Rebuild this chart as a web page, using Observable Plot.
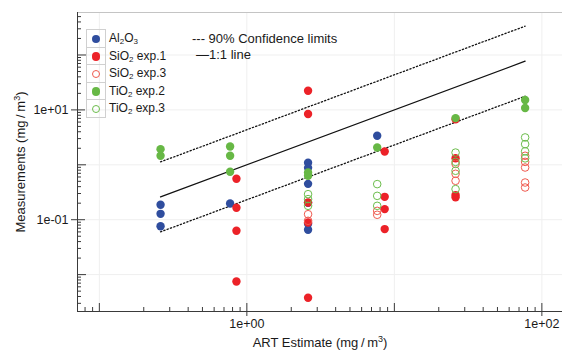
<!DOCTYPE html>
<html><head><meta charset="utf-8">
<script src="https://cdn.jsdelivr.net/npm/d3@7"></script>
<script src="https://cdn.jsdelivr.net/npm/@observablehq/plot@0.6"></script>
<style>
html,body{margin:0;padding:0;background:#fff;}
body{font-family:"Liberation Sans",Arial,sans-serif;color:#1a1a1a;}
#wrap{position:relative;width:564px;height:350px;overflow:hidden;}
#wrap svg{display:block;}
.ov{position:absolute;white-space:nowrap;line-height:1;}
#legend{position:absolute;left:86px;top:29px;border-collapse:collapse;font-size:12px;}
#legend td{padding:0;height:16.5px;}
#legend td.m{width:18px;border:1px solid #d0d0d0;text-align:center;vertical-align:middle;}
#legend td.t{padding-left:3px;}
#legend .c{display:inline-block;width:8.4px;height:8.4px;border-radius:50%;box-sizing:border-box;vertical-align:middle;}
sub{font-size:8px;vertical-align:-2px;line-height:0;}
</style></head><body>
<div id="wrap"></div>
<script>
// ---- data ----
const xDomain = [0.0711, 138];
const yDomain = [0.00213, 594];
const xLabelTicks = [1, 100];
const yLabelTicks = [0.1, 10];
const xDecades = [0.1, 1, 10, 100];
const yDecades = [0.01, 0.1, 1, 10, 100];
const minorFactors = [2, 3, 4, 5, 6, 7, 8, 9];
const xDecadeBases = [0.01, 0.1, 1, 10, 100];
const yDecadeBases = [0.001, 0.01, 0.1, 1, 10, 100];

// 1:1 line and 90% confidence limits
const refX = [0.26, 77];
const oneToOneY = [0.26, 77];
const upperY = [1.13, 335];
const lowerY = [0.06, 17.7];

// Al2O3
const alX = [0.26, 0.26, 0.26, 0.77, 2.6, 2.6, 2.6, 2.6, 2.6, 2.6, 7.65];
const alY = [0.187, 0.128, 0.076, 0.197, 1.09, 0.88, 0.45, 0.203, 0.084, 0.0655, 3.38];
// SiO2 exp.1 (filled red)
const si1X = [0.85, 0.85, 0.85, 0.85, 2.6, 2.6, 2.6, 2.6, 2.6, 8.6, 8.6, 8.6, 8.6, 26, 26, 26, 26];
const si1Y = [0.556, 0.165, 0.0628, 0.00748, 22.3, 8.4, 0.206, 0.089, 0.0038, 1.75, 0.261, 0.156, 0.0675, 6.75, 1.32, 0.281, 0.256];
// SiO2 exp.3 (open red)
const si3X = [2.6, 2.6, 7.65, 7.65, 26, 26, 26, 77, 77, 77, 77, 77];
const si3Y = [0.126, 0.0955, 0.145, 0.123, 1.04, 0.686, 0.511, 1.46, 1.13, 0.893, 0.476, 0.386];
// TiO2 exp.2 (filled green)
const ti2X = [0.26, 0.26, 0.77, 0.77, 0.77, 2.6, 2.6, 7.65, 26, 77, 77];
const ti2Y = [1.93, 1.46, 2.15, 1.46, 0.745, 0.724, 0.63, 2.07, 7.09, 15.1, 10.8];
// TiO2 exp.3 (open green)
const ti3X = [2.6, 2.6, 2.6, 7.65, 7.65, 7.65, 26, 26, 26, 26, 77, 77, 77, 77];
const ti3Y = [0.292, 0.237, 0.179, 0.445, 0.272, 0.179, 1.67, 1.13, 0.778, 0.361, 3.15, 2.38, 1.76, 1.31];

// ---- build ----
const pts = (xs, ys) => xs.map((x, i) => ({x, y: ys[i]}));
const ref = (ys) => refX.map((x, i) => ({x, y: ys[i]}));
const minors = (bases, dom) => bases.flatMap(b => minorFactors.map(f => b * f)).filter(v => v > dom[0] && v < dom[1]);
const fmt = d => { const e = Math.round(Math.log10(d)); return "1e" + (e < 0 ? "-" : "+") + String(Math.abs(e)).padStart(2, "0"); };
const blank = () => "";
const xMinor = minors(xDecadeBases, xDomain);
const yMinor = minors(yDecadeBases, yDomain);
const xUnl = xDecades.filter(d => !xLabelTicks.includes(d));
const yUnl = yDecades.filter(d => !yLabelTicks.includes(d));

const C = {al: "#2f4d9e", red: "#ec2228", redO: "#ef5a4f", green: "#67b845", greenO: "#6cbd4c", axis: "#3a3a3a"};

const chart = Plot.plot({
  width: 564, height: 350,
  marginLeft: 77, marginRight: 2, marginTop: 12, marginBottom: 39,
  style: {fontFamily: "'Liberation Sans', Arial, sans-serif", fontSize: "12.5px", color: "#1a1a1a", background: "white", overflow: "visible"},
  x: {type: "log", domain: xDomain},
  y: {type: "log", domain: yDomain},
  marks: [
    Plot.gridX(xDecades, {stroke: "#efefef", strokeOpacity: 1}),
    Plot.gridY(yDecades, {stroke: "#efefef", strokeOpacity: 1}),
    Plot.ruleY([yDomain[1]], {stroke: "#c4c4c4"}),
    Plot.ruleX([xDomain[0]], {stroke: C.axis}),
    Plot.ruleY([yDomain[0]], {stroke: C.axis}),
    // labeled major ticks (cross the axis)
    Plot.axisX(xLabelTicks, {anchor: "bottom", tickSize: 5, tickPadding: 3, tickFormat: fmt, label: null, stroke: C.axis}),
    Plot.axisX(xLabelTicks, {anchor: "bottom", tickSize: -8, tickFormat: blank, label: null, stroke: C.axis}),
    Plot.axisY(yLabelTicks, {anchor: "left", tickSize: 6, tickPadding: 3, tickFormat: fmt, label: null, stroke: C.axis}),
    Plot.axisY(yLabelTicks, {anchor: "left", tickSize: -8, tickFormat: blank, label: null, stroke: C.axis}),
    // unlabeled majors (inside)
    Plot.axisX(xUnl, {anchor: "bottom", tickSize: -8, tickFormat: blank, label: null, stroke: C.axis}),
    Plot.axisY(yUnl, {anchor: "left", tickSize: -9, tickFormat: blank, label: null, stroke: C.axis}),
    // minor ticks (inside)
    Plot.axisX(xMinor, {anchor: "bottom", tickSize: -4, tickFormat: blank, label: null, stroke: C.axis}),
    Plot.axisY(yMinor, {anchor: "left", tickSize: -4, tickFormat: blank, label: null, stroke: C.axis}),
    // reference lines
    Plot.line(ref(upperY), {x: "x", y: "y", stroke: "#111", strokeWidth: 1.3, strokeDasharray: "1.3,2.2"}),
    Plot.line(ref(lowerY), {x: "x", y: "y", stroke: "#111", strokeWidth: 1.3, strokeDasharray: "1.3,2.2"}),
    Plot.line(ref(oneToOneY), {x: "x", y: "y", stroke: "#111", strokeWidth: 1.3}),
    // data
    Plot.dot(pts(alX, alY), {x: "x", y: "y", r: 4.2, fill: C.al}),
    Plot.dot(pts(si1X, si1Y), {x: "x", y: "y", r: 4.2, fill: C.red}),
    Plot.dot(pts(si3X, si3Y), {x: "x", y: "y", r: 3.8, fill: "white", fillOpacity: 0, stroke: C.redO, strokeWidth: 1}),
    Plot.dot(pts(ti2X, ti2Y), {x: "x", y: "y", r: 4.2, fill: C.green}),
    Plot.dot(pts(ti3X, ti3Y), {x: "x", y: "y", r: 3.8, fill: "white", fillOpacity: 0, stroke: C.greenO, strokeWidth: 1})
  ]
});
const wrap = document.getElementById("wrap");
wrap.appendChild(chart);

const legendItems = [
  {label: "Al<sub>2</sub>O<sub>3</sub>", fill: C.al, stroke: null},
  {label: "SiO<sub>2</sub> exp.1", fill: C.red, stroke: null},
  {label: "SiO<sub>2</sub> exp.3", fill: null, stroke: C.redO},
  {label: "TiO<sub>2</sub> exp.2", fill: C.green, stroke: null},
  {label: "TiO<sub>2</sub> exp.3", fill: null, stroke: C.greenO}
];
const tbl = document.createElement("table");
tbl.id = "legend";
tbl.innerHTML = legendItems.map(d => `<tr><td class="m"><span class="c" style="background:${d.fill || "transparent"};${d.stroke ? "border:1px solid " + d.stroke : ""}"></span></td><td class="t">${d.label}</td></tr>`).join("");
wrap.appendChild(tbl);

const addText = (html, css) => { const d = document.createElement("div"); d.className = "ov"; d.innerHTML = html; Object.assign(d.style, css); wrap.appendChild(d); return d; };
addText("--- 90% Confidence limits", {left: "192px", top: "32px", fontSize: "13px"});
addText("\u20141:1 line", {left: "196px", top: "48px", fontSize: "13px"});
addText("ART Estimate (mg\u2009/\u2009m<sup style='font-size:9px;vertical-align:5px;line-height:0'>3</sup>)", {left: "320px", top: "336px", fontSize: "13px", transform: "translateX(-50%)"});
addText("Measurements (mg\u2009/\u2009m<sup style='font-size:9px;vertical-align:5px;line-height:0'>3</sup>)", {left: "20px", top: "162px", fontSize: "13px", transform: "translate(-50%,-50%) rotate(-90deg)"});
</script>
</body></html>
